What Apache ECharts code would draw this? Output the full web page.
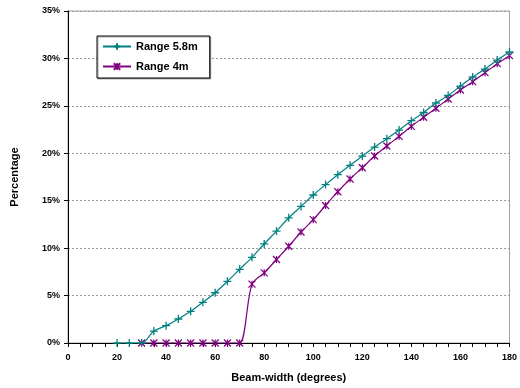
<!DOCTYPE html>
<html>
<head>
<meta charset="utf-8">
<script src="https://cdn.jsdelivr.net/npm/echarts@6/dist/echarts.min.js"></script>
<style>
  html, body { margin: 0; padding: 0; background: #fff; }
  #main { width: 520px; height: 388px; }
</style>
</head>
<body>
<div id="main"></div>
<script>
  // beam width (degrees), one point every 5 degrees
  const range58Angles = [20, 25, 30, 35, 40, 45, 50, 55, 60, 65, 70, 75, 80, 85, 90, 95, 100,
    105, 110, 115, 120, 125, 130, 135, 140, 145, 150, 155, 160, 165, 170, 175, 180];
  const range58Values = [0, 0, 0, 1.26, 1.83, 2.53, 3.34, 4.29, 5.3, 6.5, 7.77, 9.03, 10.44, 11.8, 13.2, 14.4, 15.6,
    16.7, 17.74, 18.73, 19.71, 20.66, 21.54, 22.45, 23.44, 24.3, 25.3, 26.1, 27.09, 28.04, 28.88, 29.83, 30.68];
  const range4Angles = [30, 35, 40, 45, 50, 55, 60, 65, 70, 75, 80, 85, 90, 95, 100,
    105, 110, 115, 120, 125, 130, 135, 140, 145, 150, 155, 160, 165, 170, 175, 180];
  const range4Values = [0, 0, 0, 0, 0, 0, 0, 0, 0, 6.2, 7.4, 8.8, 10.2, 11.7, 13.0,
    14.5, 15.95, 17.29, 18.48, 19.71, 20.77, 21.79, 22.84, 23.8, 24.75, 25.72, 26.67, 27.55, 28.5, 29.45, 30.29];
  const seriesNames = ['Range 5.8m', 'Range 4m'];

  const zip = (xs, ys) => xs.map((x, i) => [x, ys[i]]);

  const myechart = echarts.init(document.getElementById('main'));
  const option = {
    animation: false,
    textStyle: { fontFamily: 'Liberation Sans, Arial, sans-serif' },
    grid: {
      left: 68, right: 6, top: 11, bottom: 45,
      show: true,
      borderColor: '#a0a0a0',
      borderWidth: 1
    },
    legend: {
      orient: 'vertical',
      left: 97,
      top: 36,
      padding: [5, 12, 6, 5],
      itemGap: 9,
      itemWidth: 28,
      itemHeight: 8,
      borderColor: '#000',
      borderWidth: 1,
      backgroundColor: '#fff',
      shadowColor: 'rgba(0,0,0,0.35)',
      shadowOffsetX: 1,
      shadowOffsetY: 1,
      shadowBlur: 0,
      textStyle: { fontSize: 11, fontWeight: 'bold', color: '#000' },
      data: seriesNames
    },
    xAxis: {
      type: 'value',
      min: 0,
      max: 180,
      interval: 20,
      name: 'Beam-width (degrees)',
      nameLocation: 'middle',
      nameGap: 29,
      nameTextStyle: { fontSize: 11, fontWeight: 'bold', color: '#000' },
      axisLine: { lineStyle: { color: '#000', width: 1 } },
      axisTick: { show: true, length: 4, lineStyle: { color: '#000' } },
      minorTick: { show: true, splitNumber: 4, length: 4, lineStyle: { color: '#000' } },
      axisLabel: { fontSize: 9, fontWeight: 'bold', color: '#000', margin: 10 },
      splitLine: { show: false }
    },
    yAxis: {
      type: 'value',
      min: 0,
      max: 35,
      interval: 5,
      name: 'Percentage',
      nameLocation: 'middle',
      nameGap: 48,
      nameRotate: 90,
      nameTextStyle: { fontSize: 11, fontWeight: 'bold', color: '#000' },
      axisLine: { show: true, lineStyle: { color: '#000', width: 1 } },
      axisTick: { show: true, length: 4, lineStyle: { color: '#000' } },
      axisLabel: { fontSize: 9, fontWeight: 'bold', color: '#000', margin: 8, formatter: '{value}%' },
      splitLine: { show: true, lineStyle: { color: '#999', type: [2, 2], width: 1 } }
    },
    series: [
      {
        name: seriesNames[0],
        type: 'line',
        data: zip(range58Angles, range58Values),
        smooth: 0.3,
        symbol: 'path://M0,5L10,5M5,0L5,10',
        symbolSize: 8,
        lineStyle: { color: '#008080', width: 1.2 },
        itemStyle: { color: '#008080', borderColor: '#008080', borderWidth: 1.3 },
        z: 3
      },
      {
        name: seriesNames[1],
        type: 'line',
        data: zip(range4Angles, range4Values),
        smooth: 0.3,
        symbol: 'path://M0,0L10,10M10,0L0,10M5,0L5,10',
        symbolSize: 7,
        lineStyle: { color: '#800080', width: 1.2 },
        itemStyle: { color: '#800080', borderColor: '#800080', borderWidth: 1.2 },
        z: 2
      }
    ]
  };
  myechart.setOption(option);
</script>
</body>
</html>
